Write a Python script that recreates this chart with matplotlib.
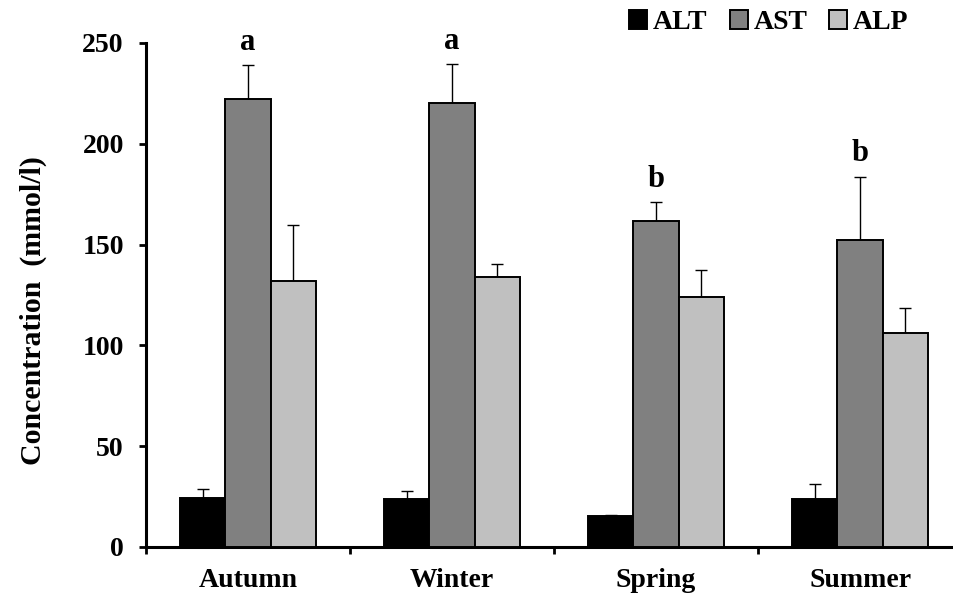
import matplotlib
matplotlib.use("Agg")
import matplotlib.pyplot as plt
import numpy as np

plt.rcParams['font.family'] = ['Liberation Serif', 'DejaVu Serif']
plt.rcParams['font.weight'] = 'bold'

seasons = ["Autumn", "Winter", "Spring", "Summer"]
series = ["ALT", "AST", "ALP"]
alt = [24.5, 23.7, 15.2, 23.7]
alt_err = [4.3, 4.1, 0.5, 7.6]
ast = [222.0, 220.4, 161.7, 152.1]
ast_err = [17.0, 19.0, 9.4, 31.6]
alp = [132.0, 134.1, 123.9, 106.0]
alp_err = [27.7, 6.4, 13.6, 12.6]
letters = ["a", "a", "b", "b"]

colors = ["#000000", "#808080", "#C0C0C0"]
values = [alt, ast, alp]
errors = [alt_err, ast_err, alp_err]

fig = plt.figure(figsize=(9.54, 5.96), dpi=100)
ax = fig.add_axes([146/954, 49/596, 808/954, (547-43)/596])

x = np.arange(len(seasons))
w = 0.222
for i, (name, vals, errs, c) in enumerate(zip(series, values, errors, colors)):
    pos = x + (i - 1) * w
    ax.bar(pos, vals, width=w, color=c, edgecolor='black', linewidth=1.4,
           label=name, zorder=3)
    ax.errorbar(pos, vals, yerr=[np.zeros(len(vals)), errs], fmt='none',
                ecolor='black', elinewidth=1.0, capsize=4, capthick=1.0, zorder=2)

for xi, v, e, t in zip(x, ast, ast_err, letters):
    ax.annotate(t, xy=(xi, v + e), xytext=(0, 11), textcoords='offset points',
                ha='center', va='baseline', fontsize=22, fontweight='bold')

ax.set_xlim(-0.5, 3.46)
ax.set_ylim(0, 250)
ax.set_yticks([0, 50, 100, 150, 200, 250])
ax.tick_params(axis='y', direction='out', length=5, width=2, labelsize=20, pad=11)
ax.set_xticks([-0.5, 0.5, 1.5, 2.5])
ax.set_xticklabels([])
ax.set_xticks(x, minor=True)
ax.set_xticklabels(seasons, minor=True, fontsize=20, fontweight='bold')
ax.tick_params(axis='x', which='major', direction='out', length=5, width=2)
ax.tick_params(axis='x', which='minor', length=0, pad=15)

for s in ['top', 'right']:
    ax.spines[s].set_visible(False)
for s in ['left', 'bottom']:
    ax.spines[s].set_linewidth(2.2)

ax.set_ylabel("Concentration  (mmol/l)", fontsize=21.5, fontweight='bold')
ax.yaxis.set_label_coords(-0.122, 0.47)

leg = ax.legend(loc='center', bbox_to_anchor=(0.806, 0.962), bbox_transform=fig.transFigure,
                ncol=3, frameon=False, fontsize=20, handlelength=0.65, handleheight=0.65,
                handletextpad=0.2, columnspacing=0.8, borderpad=0, borderaxespad=0)
for t in leg.get_texts():
    t.set_fontweight('bold')

fig.savefig("out.png", dpi=100)
